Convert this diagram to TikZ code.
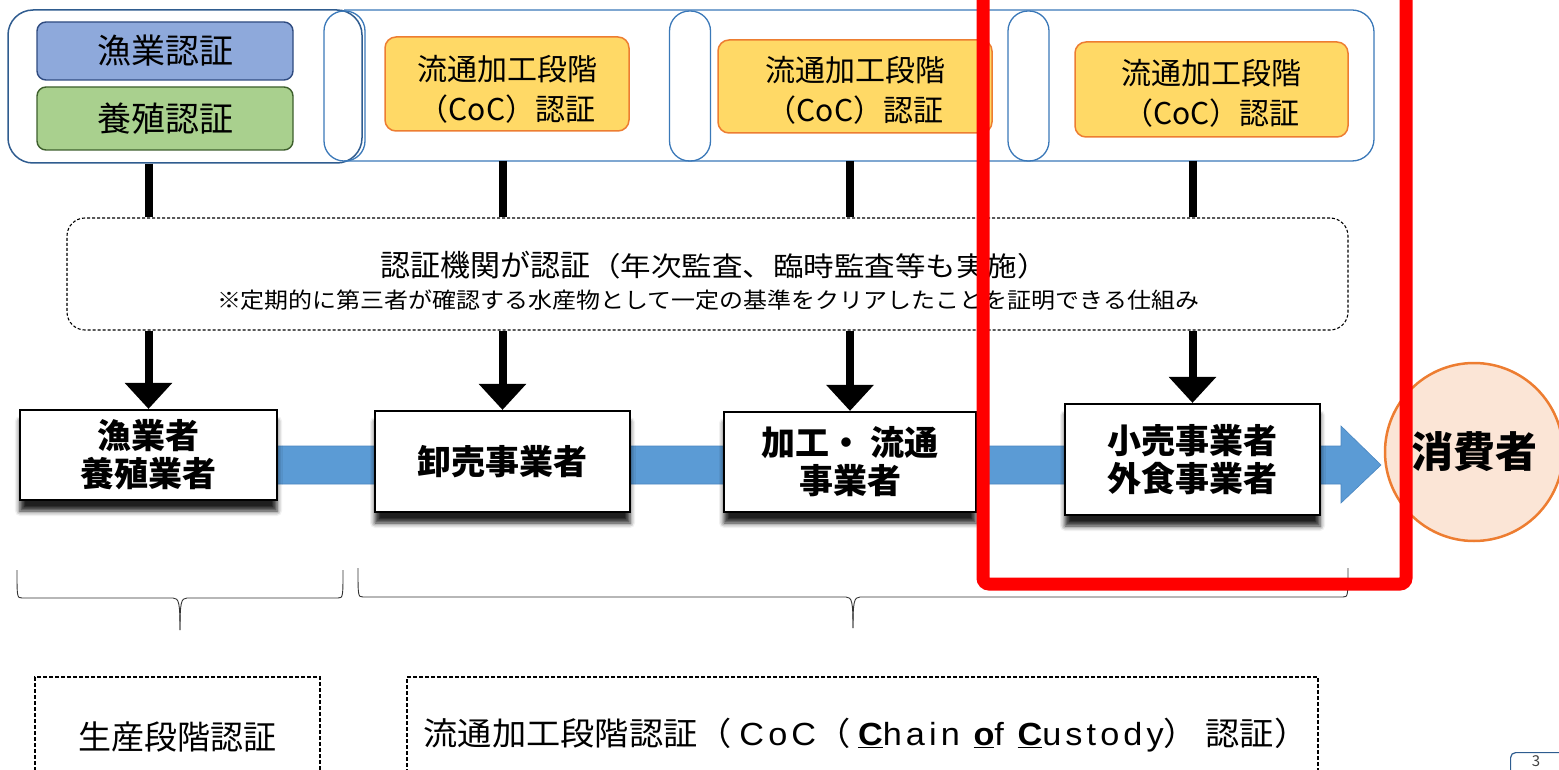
\documentclass[tikz,border=0pt]{standalone}
\usepackage{fontspec}
\setmainfont{Noto Sans CJK JP}
\newfontfamily\latsp{Liberation Sans}[LetterSpace=12]
\usetikzlibrary{shadows.blur,arrows.meta}
\newcommand{\fsz}[2]{\fontsize{#1}{#2}\selectfont}
\definecolor{lcblue}{HTML}{2F5C8F}
\definecolor{capblue}{HTML}{3A78B8}
\definecolor{fishfill}{HTML}{8EA9DB}
\definecolor{fishdraw}{HTML}{2F4B80}
\definecolor{aquafill}{HTML}{A9D08E}
\definecolor{aquadraw}{HTML}{3D5F2C}
\definecolor{cocfill}{HTML}{FFD966}
\definecolor{cocdraw}{HTML}{ED7D31}
\definecolor{bandblue}{HTML}{5B9BD5}
\definecolor{banddraw}{HTML}{4A86C0}
\definecolor{consfill}{HTML}{FBE5D6}
\definecolor{consdraw}{HTML}{ED7D31}
\definecolor{pageblue}{HTML}{2E5C8F}
\begin{document}
\begin{tikzpicture}[x=1pt,y=-1pt,
  capsule/.style={draw=capblue, line width=1.3pt, rounded corners=20pt, minimum width=41pt, minimum height=150pt, inner sep=0pt},
  certbox/.style={line width=1.4pt, rounded corners=9pt, minimum width=256pt, inner sep=0pt, font=\fsz{34}{40}},
  cocbox/.style={draw=cocdraw, fill=cocfill, line width=1.5pt, rounded corners=11pt, minimum height=94pt, inner sep=0pt},
  coctext/.style={inner sep=0pt, align=center, font=\fsz{30}{40}},
  rowbox/.style={draw=black, fill=white, line width=2.2pt, inner sep=0pt, align=center, font=\bfseries\fsz{34}{38},
     blur shadow={shadow xshift=0pt, shadow yshift=-11pt, shadow blur radius=5pt, shadow opacity=88}},
  vbar/.style={line width=8pt},
  downarrow/.style={line width=8pt, -{Triangle[width=46pt,length=26pt]}},
  brace/.style={line width=0.9pt, draw=black!80},
  dashbox/.style={draw=black, line width=1.1pt, dash pattern=on 4pt off 2pt, inner sep=0pt},
  highlight/.style={draw=red, line width=13pt, rounded corners=6pt}
]
\useasboundingbox (0,0) rectangle (1559,770);
\begin{scope}
\clip (0,0) rectangle (1559,770);

% top containers
\node[draw=lcblue, line width=1.5pt, rounded corners=25pt, minimum width=354pt, minimum height=153pt] (lc) at (185,86.5) {};
\draw[draw=capblue, line width=1.3pt, rounded corners=22pt] (344,10) -- (1374,10) -- (1374,161) -- (344,161);
\coordinate (mcs) at (860,161);
\node[capsule] (c1) at (344.5,86) {};
\node[capsule] (c2) at (690,86) {};
\node[capsule] (c3) at (1028.5,86) {};

\node[certbox, draw=fishdraw, fill=fishfill, minimum height=58pt] (fish) at (165,51) {漁業認証};
\node[certbox, draw=aquadraw, fill=aquafill, minimum height=63pt] (aqua) at (165,118.5) {養殖認証};

\node[cocbox, minimum width=244pt] (coc1) at (507,84) {};
\node[coctext] (coc1t) at ([yshift=-5pt]coc1.center) {流通加工段階\\（CoC）認証};
\node[cocbox, minimum width=274pt, minimum height=93pt] (coc2) at (855,86.5) {};
\node[coctext] (coc2t) at ([yshift=-4pt]coc2.center) {流通加工段階\\（CoC）認証};
\node[cocbox, minimum width=273pt, minimum height=95pt] (coc3) at (1211.5,89.5) {};
\node[coctext] (coc3t) at ([yshift=-4pt]coc3.center) {流通加工段階\\（CoC）認証};

% dashed certification box
\node[draw=black, line width=1.1pt, dash pattern=on 3pt off 2pt, rounded corners=18pt, minimum width=1281pt, minimum height=112pt] (dash) at (707.5,274) {};
\node[inner sep=0pt] (t1) at (714,265) {\fsz{30}{30}認証機関が認証\scalebox{1.13}[1]{\fsz{27}{27}（年次監査、臨時監査等も実施）}};
\node[inner sep=0pt] (t2) at (708,300) {\scalebox{1.09}[1]{\fsz{22}{22}※定期的に第三者が確認する水産物として一定の基準をクリアしたことを証明できる仕組み}};

% flow band
\coordinate (bandstart) at (270,465);
\coordinate (tip) at (1381,465);
\fill[bandblue, draw=banddraw, line width=0.6pt] (bandstart) ++(0,-19) -- (1341,446) -- (1341,426) -- (tip) -- (1341,503) -- (1341,484) -- (270,484) -- cycle;

% row boxes
\node[rowbox, minimum width=257pt, minimum height=90pt] (A) at (148.5,455) {漁業者\\養殖業者};
\node[rowbox, minimum width=255pt, minimum height=101pt] (B) at (502.5,461.5) {卸売事業者};
\node[rowbox, minimum width=252pt, minimum height=100pt] (C) at (850,462) {加工・ 流通\\事業者};
\node[rowbox, minimum width=255pt, minimum height=111pt] (D) at (1192.5,459.5) {小売事業者\\外食事業者};
\node[circle, draw=consdraw, fill=consfill, line width=2.5pt, minimum size=178pt, inner sep=0pt, font=\bfseries\fsz{42}{42}] (cons) at (1474,452) {消費者};

% connectors
\draw[vbar] (A |- lc.south) -- (A |- dash.north);
\draw[vbar] (B |- mcs) -- (B |- dash.north);
\draw[vbar] (C |- mcs) -- (C |- dash.north);
\draw[vbar] (D |- mcs) -- (D |- dash.north);
\draw[downarrow] (A |- dash.south) -- (A.north);
\draw[downarrow] (B |- dash.south) -- (B.north);
\draw[downarrow] (C |- dash.south) -- (C.north);
\draw[downarrow] (D |- dash.south) -- (D.north);

% braces
\draw[brace] (17,570) .. controls (17,597) and (17,598) .. (22,598) -- (173,598) .. controls (179,598) and (180,603) .. (180,630);
\draw[brace] (180,630) .. controls (180,603) and (181,598) .. (187,598) -- (338,598) .. controls (343,598) and (343,597) .. (343,570);
\draw[brace] (358,568) .. controls (358,596) and (358,597) .. (363,597) -- (846,597) .. controls (852,597) and (853,602) .. (853,628);
\draw[brace] (853,628) .. controls (853,602) and (854,597) .. (860,597) -- (1343,597) .. controls (1348,597) and (1348,596) .. (1348,568);

% bottom boxes
\node[dashbox, minimum width=285pt, minimum height=120pt, font=\fsz{33}{33}] (p1) at (177.5,737) {生産段階認証};
\node[dashbox, minimum width=911pt, minimum height=120pt] (p2) at (862.5,737) {};
\node[inner sep=0pt, font=\fsz{32}{32}] (p2t) at (866,735) {\scalebox{1.07}[1]{流通加工段階認証（ {\latsp CoC}（ {\latsp\underline{\bfseries C}hain \underline{\bfseries o}f \underline{\bfseries C}ustody}） 認証）}};

% page number
\node[draw=pageblue, line width=1.2pt, rounded corners=5pt, minimum width=60pt, minimum height=40pt, anchor=north west] (pg) at (1510,752) {};
\node[anchor=north, inner sep=0pt, text=black!75, font=\fsz{15}{15}] (pgn) at (1536,755.5) {3};

% red highlight
\draw[highlight] (983,-20) -- (983,584) -- (1406,584) -- (1406,-20);
\end{scope}
\end{tikzpicture}
\end{document}
